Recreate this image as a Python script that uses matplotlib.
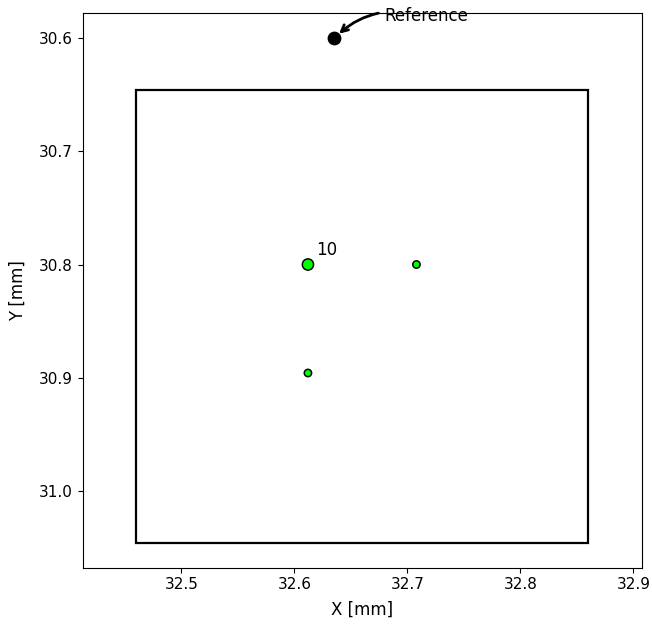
import matplotlib
matplotlib.use('Agg')
import matplotlib.pyplot as plt
from matplotlib.patches import Rectangle

# region box (x0, y0, width, height) in mm
box_x0 = 32.46
box_y0 = 30.646
box_w = 0.4
box_h = 0.4

# reference point
ref_x = 32.635
ref_y = 30.6

# measured points
pts_x = [32.612, 32.708, 32.612]
pts_y = [30.800, 30.800, 30.896]
pts_size = [65, 28, 28]
pts_label = ['10', '', '']

fig = plt.figure(figsize=(6.52, 6.26), dpi=100)
ax = fig.add_axes([0.1268, 0.0931, 0.8574, 0.8857])

rect = Rectangle((box_x0, box_y0), box_w, box_h, fill=False,
                 edgecolor='black', linewidth=1.6)
ax.add_patch(rect)

ax.scatter([ref_x], [ref_y], s=80, color='black', zorder=3)
ax.annotate('Reference', xy=(ref_x, ref_y), xytext=(36, 16),
            textcoords='offset points', ha='left', va='center', fontsize=12,
            arrowprops=dict(arrowstyle='->', color='black', lw=2,
                            connectionstyle='arc3,rad=0.3', shrinkB=5))

ax.scatter(pts_x, pts_y, s=pts_size, color='lime', edgecolors='black',
           linewidths=1.1, zorder=3)
for x, y, lab in zip(pts_x, pts_y, pts_label):
    if lab:
        ax.annotate(lab, xy=(x, y), xytext=(6, 4), textcoords='offset points',
                    ha='left', va='bottom', fontsize=12)

ax.set_aspect('equal', adjustable='datalim')
ax.autoscale_view()
ax.invert_yaxis()
ax.tick_params(axis='both', labelsize=11)
ax.set_xlabel('X [mm]', fontsize=12, labelpad=6)
ax.set_ylabel('Y [mm]', fontsize=12, labelpad=9)

fig.savefig('out.png', dpi=100)
